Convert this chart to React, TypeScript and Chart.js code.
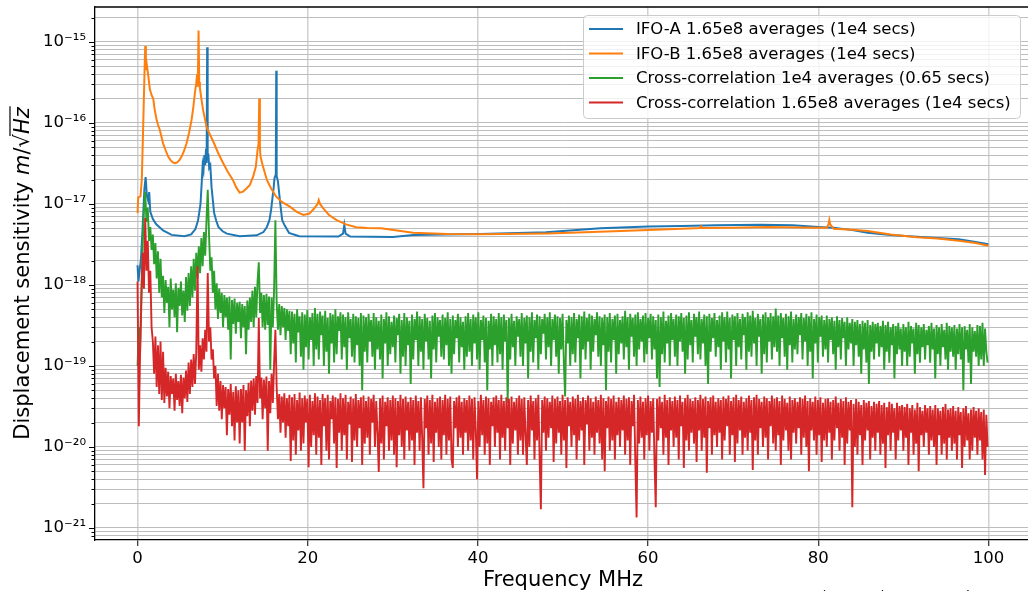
import React, { useEffect, useRef } from 'react';
import { Chart, registerables } from 'chart.js';

Chart.register(...registerables);

// ---------------- data ----------------
const seriesLabels = [
  'IFO-A 1.65e8 averages (1e4 secs)',
  'IFO-B 1.65e8 averages (1e4 secs)',
  'Cross-correlation 1e4 averages (0.65 secs)',
  'Cross-correlation 1.65e8 averages (1e4 secs)',
];
const seriesColors = ['#1f77b4', '#ff7f0e', '#2ca02c', '#d62728'];

// IFO-A spectrum (frequency in MHz, values in units of 1e-18 m/sqrt(Hz))
const ifoAFreqMHz = [
  0, 0.1, 0.4, 0.6, 0.8, 0.95, 1.1, 1.25, 1.37, 1.5,
  1.8, 2.2, 3.0, 4.0, 5.5, 6.3, 6.8, 7.1, 7.25, 7.4, 7.55, 7.65,
  7.75, 7.85, 7.95, 8.05, 8.12, 8.18, 8.24, 8.32, 8.42, 8.55, 8.7,
  9.0, 9.25, 9.5, 10.0, 10.5, 12.0, 14.0, 14.8, 15.2, 15.5, 15.7, 15.9, 16.0, 16.1, 16.25,
  16.3, 16.35, 16.5, 16.6, 16.7, 16.85, 17.0, 17.3, 17.8, 19.0, 23.6, 24.15, 24.3,
  24.45, 25.0, 30.0, 32.4, 36.0, 40.3, 48.0, 54.4, 60.0, 64.0,
  68.0, 73.2, 77.0, 80.0, 81.8, 84.0, 85.8, 88.5, 91.6, 94.0,
  96.5, 98.5, 100,
];
const ifoAValsE18 = [
  1.75, 1.1, 2.1, 5.2, 15, 21.5, 12.5, 11, 14, 8.0,
  6.5, 5.6, 4.7, 4.15, 4.0, 4.2, 4.9, 6.2, 7.8, 10, 19, 30,
  26, 40, 30, 48, 32, 860, 35, 42, 28, 30, 16,
  7.7, 6.2, 5.2, 4.6, 4.3, 4.0, 4.1, 4.5, 5.2, 6.3, 8.5, 13, 16, 21, 23,
  440, 22, 19, 15, 12, 8.5, 6.3, 5.4, 4.4, 4.0, 3.95, 4.3, 5.5,
  4.3, 3.95, 3.92, 4.14, 4.2, 4.27, 4.46, 5.0, 5.25, 5.35,
  5.45, 5.55, 5.45, 5.2, 5.1, 4.75, 4.42, 4.15, 3.94, 3.8,
  3.66, 3.4, 3.18,
];

// IFO-B spectrum (frequency in MHz, values in units of 1e-18)
const ifoBFreqMHz = [
  0, 0.08, 0.35, 0.5, 0.65, 0.8, 0.9, 0.98, 1.06, 1.2,
  1.45, 1.65, 1.84, 2.0, 2.23, 2.4, 2.62, 3.0, 3.3, 3.6, 3.9, 4.15, 4.4, 4.65, 4.9, 5.17,
  5.45, 5.76, 6.05, 6.35, 6.55, 6.73, 6.9, 7.0, 7.08, 7.17, 7.25, 7.33, 7.5, 7.7, 7.9,
  8.1, 8.5, 8.9, 9.5, 10.07, 10.6, 11.2, 11.6, 12.0, 12.4, 12.8, 13.2, 13.6, 13.9, 14.1, 14.22, 14.3,
  14.38, 14.45, 14.7, 15.2, 15.7, 16.3, 17.0, 17.9, 18.7, 19.5, 20.2, 20.8, 21.15, 21.3, 21.45,
  21.8, 22.5, 23.4, 24.5, 25.7, 27.0, 28.6, 30.5, 32.4, 36.4, 40.3, 48.2, 56.0, 60.0,
  64.0, 66.1, 66.2, 66.3, 70.0, 74.0, 80.0, 81.0, 81.2, 81.3,
  81.4, 81.8, 84.0, 85.8, 88.5, 91.6, 94.0, 96.5, 98.5, 100,
];
const ifoBValsE18 = [
  7.7, 12, 12.5, 20, 80, 350, 890, 450, 550, 430,
  260, 220, 200, 150, 110, 95, 82, 56, 46, 38.4, 34.5, 32.5, 31.8, 32.5, 34.5, 38.4,
  45, 56, 75, 109, 155, 230, 310, 400, 280, 1380, 320, 270, 200, 145, 115,
  90, 72, 59, 42, 31.8, 25, 19.8, 16, 13.8, 14.2, 15.5, 17.2, 22, 28.8, 46, 55, 200,
  50, 38.4, 30, 19.8, 15.5, 12.3, 10.5, 9.27, 8.0, 7.31, 7.6, 8.9, 10, 11.2, 10,
  8.9, 7.3, 6.3, 5.6, 5.16, 5.05, 5.0, 4.7, 4.42, 4.27, 4.24, 4.33, 4.6, 4.77,
  4.95, 5.05, 5.3, 5.05, 5.1, 5.2, 5.1, 5.1, 5.6, 6.34,
  5.6, 4.95, 4.8, 4.64, 4.2, 3.88, 3.75, 3.52, 3.3, 3.05,
];

// Cross-correlation traces, sampled every crossStepMHz starting at 0 MHz
const crossStepMHz = 0.15;
// 1e4 averages, units of 1e-20 (20 samples = 3 MHz per row)
const crossShortValsE20 = [
  10, 30, 15, 90, 300, 800, 1400, 600, 900, 350, 520, 270, 420, 180, 330, 120, 260, 80, 210, 70,
  130, 45, 115, 60, 95, 30, 120, 50, 88, 40, 105, 26, 92, 55, 110, 42, 85, 35, 125, 48,
  140, 55, 170, 70, 210, 85, 250, 120, 300, 140, 380, 170, 450, 230, 620, 1500, 420, 150, 220, 80,
  150, 50, 105, 38, 90, 45, 80, 30, 75, 40, 70, 28, 72, 12, 65, 33, 68, 25, 60, 35,
  62, 22, 58, 30, 55, 14, 64, 28, 70, 35, 85, 30, 95, 40, 110, 190, 45, 80, 30, 75,
  28, 78, 32, 72, 9, 70, 30, 90, 630, 60, 28, 58, 24, 55, 30, 52, 21, 50, 27, 48,
  14, 47, 19, 44, 11, 50, 26, 41, 13, 46, 9, 43, 17, 49, 12, 40, 21, 45, 10, 52,
  16, 44, 12, 47, 24, 42, 10, 48, 15, 39, 8, 45, 19, 43, 11, 50, 14, 41, 27, 46,
  12, 43, 17, 40, 9, 46, 22, 38, 13, 44, 11, 41, 18, 39, 10, 45, 5, 42, 15, 40,
  11, 44, 20, 37, 13, 45, 9, 40, 16, 36, 12, 43, 7, 38, 19, 46, 10, 41, 14, 35,
  17, 42, 11, 39, 24, 44, 8, 37, 13, 45, 10, 40, 18, 36, 6, 43, 12, 38, 21, 47,
  10, 41, 15, 38, 9, 44, 20, 39, 12, 36, 7, 42, 16, 45, 11, 40, 23, 37, 13, 43,
  12, 39, 18, 46, 10, 38, 8, 42, 14, 37, 22, 44, 11, 40, 17, 35, 9, 41, 13, 45,
  15, 38, 10, 43, 19, 40, 12, 46, 9, 37, 21, 42, 11, 39, 5, 36, 16, 44, 10, 41,
  18, 38, 11, 45, 14, 40, 9, 43, 20, 37, 3.5, 39, 12, 44, 17, 36, 10, 41, 23, 38,
  13, 45, 10, 39, 19, 42, 7, 40, 15, 46, 11, 37, 22, 43, 9, 41, 14, 38, 25, 44,
  12, 40, 17, 46, 10, 38, 21, 43, 13, 41, 8, 39, 16, 44, 11, 4.2, 37, 19, 42, 10,
  40, 14, 45, 11, 38, 22, 43, 7, 41, 16, 47, 12, 39, 20, 44, 9, 42, 15, 38, 24,
  46, 13, 41, 10, 39, 18, 43, 5, 40, 15, 45, 11, 38, 21, 42, 8, 44, 14, 37, 19,
  41, 12, 48, 17, 40, 9, 44, 23, 39, 13, 43, 10, 46, 16, 38, 20, 42, 11, 45, 14,
  39, 22, 44, 12, 41, 16, 37, 7, 43, 5.5, 40, 14, 47, 11, 36, 19, 42, 10, 45, 21,
  38, 13, 43, 10, 41, 20, 45, 15, 39, 8, 42, 12, 46, 18, 37, 11, 44, 23, 40, 14,
  47, 12, 38, 19, 43, 10, 41, 6, 44, 15, 39, 22, 45, 13, 37, 17, 42, 9, 46, 20,
  40, 11, 47, 16, 39, 7, 43, 21, 41, 10, 45, 17, 38, 12, 44, 24, 40, 9, 46, 15,
  42, 13, 48, 19, 39, 10, 44, 23, 38, 8, 43, 14, 46, 11, 40, 20, 45, 12, 41, 17,
  51, 15, 42, 10, 45, 22, 39, 13, 44, 9, 41, 18, 47, 11, 38, 16, 43, 14, 40, 24,
  45, 12, 39, 20, 44, 10, 41, 15, 46, 7, 38, 19, 43, 11, 40, 23, 42, 13, 37, 16,
  42, 11, 38, 21, 40, 14, 36, 9, 41, 17, 37, 12, 39, 22, 35, 10, 40, 16, 34, 19,
  38, 10, 35, 18, 37, 13, 33, 8, 36, 16, 34, 11, 37, 6, 32, 15, 35, 12, 33, 19,
  34, 13, 31, 17, 36, 9, 32, 15, 35, 11, 30, 18, 33, 7, 31, 14, 34, 16, 29, 10,
  33, 15, 30, 10, 35, 13, 31, 19, 29, 8, 34, 14, 32, 11, 30, 17, 33, 12, 28, 18,
  31, 11, 34, 16, 29, 7, 32, 14, 30, 10, 33, 17, 28, 12, 34, 9, 31, 15, 30, 13,
  32, 9, 29, 14, 33, 12, 30, 5, 31, 16, 28, 11, 33, 6, 30, 15, 27, 13, 32, 10,
  31, 12, 34, 10, 29, 15, 11,
];
// 1.65e8 averages, units of 1e-21 (20 samples = 3 MHz per row)
const crossLongValsE21 = [
  1100, 18, 150, 600, 2500, 900, 6700, 1500, 3500, 800, 1500, 300, 200, 80, 230, 55, 180, 45, 200, 38,
  150, 35, 95, 42, 85, 30, 75, 45, 70, 28, 80, 38, 65, 32, 78, 26, 72, 40, 88, 36,
  110, 45, 120, 55, 140, 60, 150, 1700, 90, 180, 85, 220, 120, 280, 150, 1400, 200, 300, 120, 160,
  70, 100, 32, 80, 28, 65, 22, 58, 30, 55, 14, 52, 25, 60, 18, 48, 12, 56, 20, 50,
  11, 52, 20, 58, 9, 50, 24, 62, 18, 66, 28, 70, 25, 75, 35, 390, 40, 72, 22, 68,
  30, 74, 9, 65, 26, 80, 35, 110, 280, 55, 22, 45, 15, 42, 20, 46, 13, 40, 18, 44,
  6.7, 41, 12, 45, 8, 38, 16, 47, 9, 40, 11, 43, 20, 39, 5.6, 44, 10, 37, 14, 46,
  8, 42, 13, 38, 6, 45, 18, 40, 9, 44, 7, 37, 22, 43, 11, 41, 5.5, 39, 15, 46,
  9, 40, 14, 44, 7, 36, 19, 42, 6.5, 39, 12, 45, 10, 38, 17, 41, 6, 43, 11, 37,
  13, 42, 8, 39, 20, 44, 10, 37, 15, 4.9, 40, 11, 43, 7, 36, 18, 41, 9, 38, 12,
  43, 8, 40, 5.6, 37, 14, 44, 10, 39, 7, 42, 16, 36, 9, 41, 12, 38, 6, 43, 15,
  37, 9, 41, 13, 3.1, 39, 17, 43, 8, 38, 11, 44, 6.5, 36, 15, 40, 10, 42, 7, 38,
  14, 44, 8, 39, 12, 42, 7, 5.5, 37, 17, 41, 10, 43, 13, 36, 8, 40, 15, 38, 9,
  43, 12, 39, 7, 41, 16, 4.0, 37, 10, 44, 14, 38, 8, 42, 11, 40, 6, 36, 18, 41,
  10, 43, 15, 38, 7, 44, 13, 37, 9, 41, 17, 39, 6, 42, 11, 36, 16, 40, 8, 43,
  12, 39, 8, 41, 14, 6, 38, 10, 43, 16, 37, 7, 40, 12, 44, 7.5, 1.7, 38, 15, 42,
  9, 40, 13, 36, 17, 43, 6.5, 39, 11, 42, 15, 37, 8, 44, 12, 38, 5.5, 41, 18, 36,
  10, 42, 14, 39, 7, 44, 12, 37, 16, 41, 6, 38, 19, 43, 9, 40, 13, 36, 8, 42,
  15, 38, 11, 44, 7, 40, 5, 37, 17, 42, 9, 39, 12, 43, 7, 36, 14, 41, 10, 38,
  16, 43, 8, 39, 12, 41, 6, 37, 18, 44, 6.6, 1.35, 38, 11, 42, 13, 36, 7, 40, 14,
  43, 9, 37, 15, 40, 7, 1.8, 39, 12, 42, 17, 36, 8, 44, 13, 38, 6, 41, 16, 37,
  10, 42, 13, 38, 7, 43, 18, 36, 5.5, 40, 12, 44, 9, 39, 15, 37, 11, 41, 6.5, 38,
  16, 44, 9, 39, 13, 42, 4.8, 37, 17, 41, 8, 43, 14, 36, 10, 40, 15, 38, 7, 42,
  12, 39, 18, 43, 8, 37, 14, 41, 6.5, 44, 11, 38, 16, 42, 8, 36, 13, 40, 9, 43,
  15, 38, 5.2, 41, 12, 44, 8, 39, 17, 36, 10, 42, 13, 40, 7, 37, 18, 43, 11, 39,
  9, 41, 14, 37, 6, 43, 12, 39, 16, 35, 9, 42, 7, 38, 15, 40, 11, 36, 17, 41,
  8, 39, 13, 43, 10, 37, 5, 40, 16, 36, 12, 42, 8, 38, 14, 41, 6.5, 35, 12, 39,
  10, 40, 15, 36, 7, 38, 12, 42, 17, 35, 9, 39, 13, 37, 6, 41, 11, 36, 16, 38,
  1.8, 34, 10, 39, 8, 36, 14, 33, 6, 38, 12, 35, 16, 37, 7, 32, 13, 36, 9, 34,
  15, 37, 8, 33, 11, 35, 5.5, 31, 14, 36, 9, 34, 15, 30, 7, 35, 12, 32, 16, 33,
  9, 31, 13, 34, 6, 30, 15, 33, 8, 29, 11, 35, 5, 31, 14, 28, 10, 33, 15, 30,
  8, 32, 12, 29, 10, 33, 6, 30, 14, 28, 8, 31, 11, 34, 7, 29, 13, 30, 9, 32,
  11, 28, 7, 31, 14, 27, 5.5, 30, 10, 32, 12, 26, 7, 29, 9, 31, 13, 28, 8, 30,
  12, 27, 7, 29, 4.5, 25, 10,
];

// axes
const xTickValues = [0, 20, 40, 60, 80, 100];
const xMin = -5;
const xMax = 105;
const yMin = 7.1e-22;
const yMax = 2.7e-15;
const yDecadeExponents = [-22, -21, -20, -19, -18, -17, -16, -15];
const yDecadeLabels = ['10⁻²²', '10⁻²¹', '10⁻²⁰', '10⁻¹⁹', '10⁻¹⁸', '10⁻¹⁷', '10⁻¹⁶', '10⁻¹⁵'];
const yMantissas = [1, 2, 3, 4, 5, 6, 7, 8, 9];
const xAxisTitle = 'Frequency MHz';
const yAxisTitle = 'Displacement sensitivity ';
const footnote = '(20230A) QUEST Fusion experiment data run 2';

const FONT = '"DejaVu Sans", sans-serif';

function decadeLabel(v: number): string {
  const e = Math.round(Math.log10(v));
  const m = v / Math.pow(10, e);
  if (Math.abs(m - 1) < 1e-6) {
    const idx = yDecadeExponents.indexOf(e);
    return idx >= 0 ? yDecadeLabels[idx] : '';
  }
  return '';
}

const decorPlugin = {
  id: 'decor',
  afterDraw(chart: any) {
    const { ctx, chartArea } = chart;
    const { left, right, top, bottom } = chartArea;
    const yScale = chart.scales.y;
    ctx.save();
    // top spine
    ctx.strokeStyle = '#000';
    ctx.lineWidth = 1.3;
    ctx.beginPath();
    ctx.moveTo(left, top);
    ctx.lineTo(right, top);
    ctx.stroke();
    // y tick marks
    ctx.lineWidth = 1;
    for (const t of yScale.ticks) {
      const py = Math.round(yScale.getPixelForValue(t.value)) + 0.5;
      const major = decadeLabel(t.value) !== '';
      const len = major ? 6 : 3.5;
      ctx.beginPath();
      ctx.moveTo(left - len, py);
      ctx.lineTo(left, py);
      ctx.stroke();
    }
    // x axis title
    ctx.fillStyle = '#000';
    ctx.font = `21px ${FONT}`;
    ctx.textAlign = 'center';
    ctx.textBaseline = 'alphabetic';
    ctx.fillText(xAxisTitle, (left + right) / 2, 586);

    // y axis title with math part m/sqrt(Hz)
    ctx.save();
    ctx.translate(29, (top + bottom) / 2);
    ctx.rotate(-Math.PI / 2);
    const fReg = `21px ${FONT}`;
    const fIt = `italic 21px ${FONT}`;
    const parts = [
      { t: yAxisTitle, f: fReg },
      { t: 'm', f: fIt },
      { t: '/', f: fReg },
      { t: '√', f: fReg },
      { t: 'Hz', f: fIt },
    ];
    let total = 0;
    const widths: number[] = [];
    for (const p of parts) {
      ctx.font = p.f;
      const w = ctx.measureText(p.t).width;
      widths.push(w);
      total += w;
    }
    let x = -total / 2;
    ctx.textAlign = 'left';
    let hzStart = 0;
    let hzEnd = 0;
    parts.forEach((p, i) => {
      ctx.font = p.f;
      ctx.fillText(p.t, x, 0);
      if (p.t === 'Hz') {
        hzStart = x;
        hzEnd = x + widths[i];
      }
      x += widths[i];
    });
    ctx.strokeStyle = '#000';
    ctx.lineWidth = 1.2;
    ctx.beginPath();
    ctx.moveTo(hzStart - 2, -19);
    ctx.lineTo(hzEnd + 1, -19);
    ctx.stroke();
    ctx.restore();

    // legend
    const lx = 583.5;
    const ly = 15.5;
    const lw = 437;
    const lh = 103;
    const r = 4;
    ctx.beginPath();
    ctx.moveTo(lx + r, ly);
    ctx.lineTo(lx + lw - r, ly);
    ctx.quadraticCurveTo(lx + lw, ly, lx + lw, ly + r);
    ctx.lineTo(lx + lw, ly + lh - r);
    ctx.quadraticCurveTo(lx + lw, ly + lh, lx + lw - r, ly + lh);
    ctx.lineTo(lx + r, ly + lh);
    ctx.quadraticCurveTo(lx, ly + lh, lx, ly + lh - r);
    ctx.lineTo(lx, ly + r);
    ctx.quadraticCurveTo(lx, ly, lx + r, ly);
    ctx.closePath();
    ctx.fillStyle = 'rgba(255,255,255,0.8)';
    ctx.fill();
    ctx.strokeStyle = '#cccccc';
    ctx.lineWidth = 1;
    ctx.stroke();
    const rows = [29, 53.5, 78, 102.5];
    ctx.font = `16.5px ${FONT}`;
    ctx.textBaseline = 'middle';
    ctx.textAlign = 'left';
    seriesLabels.forEach((lab, i) => {
      ctx.strokeStyle = seriesColors[i];
      ctx.lineWidth = 2;
      ctx.beginPath();
      ctx.moveTo(589, rows[i]);
      ctx.lineTo(623, rows[i]);
      ctx.stroke();
      ctx.fillStyle = '#000';
      ctx.fillText(lab, 636, rows[i] + 1);
    });

    // footnote (cut by the page edge)
    ctx.font = `14px ${FONT}`;
    ctx.textBaseline = 'alphabetic';
    ctx.fillStyle = '#000';
    ctx.fillText(footnote, 821, 601);
    ctx.restore();
  },
};

export default function App() {
  const ref = useRef<HTMLCanvasElement>(null);

  useEffect(() => {
    const canvas = ref.current;
    if (!canvas) return;
    const pairs = (xs: number[], ys: number[], unit: number) =>
      xs.map((x, i) => ({ x, y: ys[i] * unit }));
    const grid = (ys: number[], unit: number) =>
      ys.map((v, i) => ({ x: Math.round(i * crossStepMHz * 100) / 100, y: v * unit }));

    const smooth = { borderWidth: 2, pointRadius: 0, tension: 0, fill: false };
    const noisy = { borderWidth: 1.9, pointRadius: 0, tension: 0, fill: false };
    const datasets = [
      { ...smooth, label: seriesLabels[0], data: pairs(ifoAFreqMHz, ifoAValsE18, 1e-18), borderColor: seriesColors[0], order: 4 },
      { ...smooth, label: seriesLabels[1], data: pairs(ifoBFreqMHz, ifoBValsE18, 1e-18), borderColor: seriesColors[1], order: 3 },
      { ...noisy, label: seriesLabels[2], data: grid(crossShortValsE20, 1e-20), borderColor: seriesColors[2], order: 2 },
      { ...noisy, label: seriesLabels[3], data: grid(crossLongValsE21, 1e-21), borderColor: seriesColors[3], order: 1 },
    ];

    const chart = new Chart(canvas, {
      type: 'line',
      data: { datasets } as any,
      options: {
        responsive: false,
        animation: false,
        devicePixelRatio: 1,
        layout: { padding: { left: 0, top: 7, right: 9, bottom: 0 } },
        plugins: { legend: { display: false }, tooltip: { enabled: false } },
        elements: { line: { borderJoinStyle: 'miter', borderCapStyle: 'butt' } },
        scales: {
          x: {
            type: 'linear',
            min: xMin,
            max: xMax,
            afterBuildTicks: (s: any) => {
              s.ticks = xTickValues.map((v) => ({ value: v }));
            },
            afterFit: (s: any) => {
              s.height = 65;
              s.paddingLeft = 0;
              s.paddingRight = 0;
            },
            grid: { color: '#d0d0d0', lineWidth: 1.5, drawTicks: true, tickLength: 6, tickColor: '#000', tickWidth: 1 },
            border: { display: true, color: '#000', width: 1.3 },
            ticks: {
              font: { family: 'DejaVu Sans', size: 16.5 },
              color: '#000',
              padding: 3,
              maxRotation: 0,
              autoSkip: false,
              callback: (v: any) => String(v),
            },
          },
          y: {
            type: 'logarithmic',
            min: yMin,
            max: yMax,
            afterBuildTicks: (s: any) => {
              const t: any[] = [];
              for (const e of yDecadeExponents) {
                for (const m of yMantissas) {
                  const v = m * Math.pow(10, e);
                  if (v >= yMin && v <= yMax) t.push({ value: v });
                }
              }
              s.ticks = t;
            },
            afterFit: (s: any) => {
              s.width = 95;
              s.paddingTop = 0;
              s.paddingBottom = 0;
            },
            grid: { color: '#bdbdbd', lineWidth: 1, drawTicks: false },
            border: { display: true, color: '#000', width: 1.3 },
            ticks: {
              font: { family: 'DejaVu Sans', size: 16.5 },
              color: '#000',
              padding: 9,
              autoSkip: false,
              callback: (v: any) => decadeLabel(Number(v)),
            },
          },
        },
      } as any,
      plugins: [decorPlugin],
    });
    return () => chart.destroy();
  }, []);

  return (
    <div
      style={{
        position: 'absolute',
        left: 0,
        top: 0,
        width: 1028,
        height: 591,
        overflow: 'hidden',
        background: '#fff',
      }}
    >
      <canvas ref={ref} width={1040} height={605} style={{ display: 'block', width: 1040, height: 605 }} />
    </div>
  );
}
